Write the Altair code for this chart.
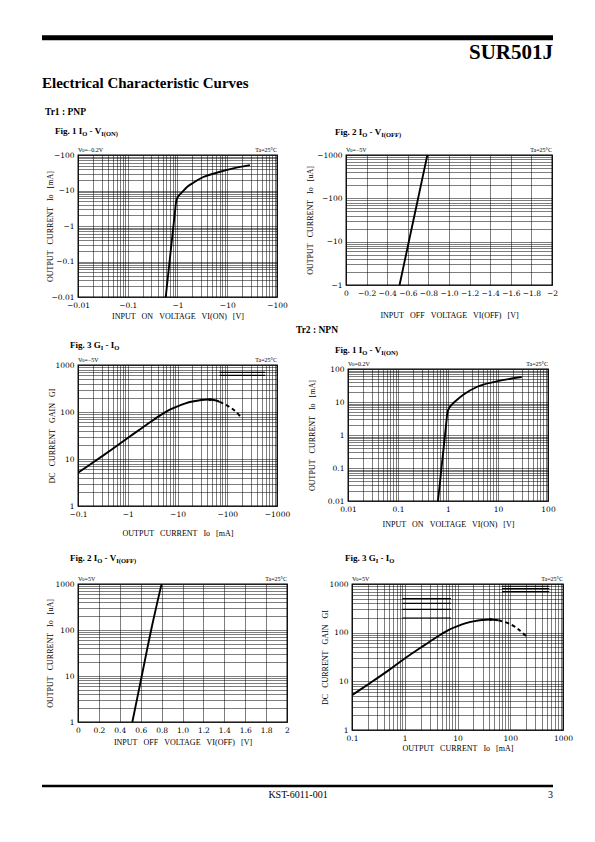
import json
import altair as alt
import pandas as pd

SERIF = "Liberation Serif"
LABEL_FONT = "DejaVu Serif"
NB = "\u00a0"
SP = NB * 3
M = "\u2212"

# ---------------- values ----------------
# Tr1 (PNP) Fig.1  IO - VI(ON)   (magnitudes, axes labelled negative)
TR1_F1_VIN = [0.58, 0.70, 0.80, 0.90, 0.93, 1.00, 1.10, 1.21, 1.50, 2.08, 3.30, 6.10, 13.2, 28.6]
TR1_F1_IO = [0.01, 0.114, 0.64, 2.9, 4.5, 6.3, 7.6, 8.7, 12.0, 16.6, 24.0, 31.6, 42.0, 52.0]

# Tr1 Fig.2  IO - VI(OFF)
TR1_F2_VIN = [0.52, 0.61, 0.70, 0.79]
TR1_F2_IO = [1, 10, 100, 1000]

# Tr1 Fig.3  GI - IO
TR1_F3_IO = [0.1, 0.2, 0.5, 1.0, 2.0, 3.0, 5.0, 7.0, 10, 14, 20, 40, 60, 70]
TR1_F3_GI = [5.1, 8.4, 16.5, 28, 47, 63.5, 91, 112, 132, 151, 167, 184, 176, 165]
TR1_F3_IO_DASH = [70, 100, 140, 180]
TR1_F3_GI_DASH = [165, 137, 108, 82]
TR1_F3_DOT_IO = [45]
TR1_F3_DOT_GI = [183]
TR1_F3_SEG_X1 = [70, 70]
TR1_F3_SEG_X2 = [580, 580]
TR1_F3_SEG_Y = [600, 700]

# Tr2 (NPN) Fig.1  IO - VI(ON)
TR2_F1_VIN = [0.63, 0.75, 0.85, 0.92, 0.97, 1.05, 1.19, 1.50, 2.02, 3.75, 9.4, 29.8]
TR2_F1_IO = [0.01, 0.12, 0.70, 2.2, 4.6, 6.5, 8.3, 11.5, 16.6, 28.5, 42.0, 57.0]

# Tr2 Fig.2  IO - VI(OFF)
TR2_F2_VIN = [0.52, 0.61, 0.70, 0.80]
TR2_F2_IO = [1, 10, 100, 1000]

# Tr2 Fig.3  GI - IO
TR2_F3_IO = [0.1, 0.2, 0.5, 1.0, 2.0, 3.0, 5.0, 7.0, 10, 14, 20, 40, 60]
TR2_F3_GI = [5.2, 8.6, 17, 29.5, 49, 66, 94, 116, 136, 155, 171, 187, 180]
TR2_F3_IO_DASH = [60, 100, 150, 200]
TR2_F3_GI_DASH = [180, 150, 112, 85]
TR2_F3_DOT_IO = [42]
TR2_F3_DOT_GI = [187]
TR2_F3_SEG_X1 = [0.9, 0.9, 0.9, 0.9, 70, 70, 70]
TR2_F3_SEG_X2 = [7.5, 7.5, 7.5, 7.5, 550, 550, 550]
TR2_F3_SEG_Y = [200, 300, 400, 500, 700, 800, 900]

# ---------------- tick values and labels ----------------
TICKS_001_100 = [0.01, 0.1, 1.0, 10.0, 100.0]
LAB_001_100_NEG = [M + "0.01", M + "0.1", M + "1", M + "10", M + "100"]
LAB_001_100 = ["0.01", "0.1", "1", "10", "100"]
TICKS_1_1000 = [1.0, 10.0, 100.0, 1000.0]
LAB_1_1000_NEG = [M + "1", M + "10", M + "100", M + "1000"]
LAB_1_1000 = ["1", "10", "100", "1000"]
TICKS_01_1000 = [0.1, 1.0, 10.0, 100.0, 1000.0]
LAB_01_1000_NEG = [M + "0.1", M + "1", M + "10", M + "100", M + "1000"]
LAB_01_1000 = ["0.1", "1", "10", "100", "1000"]
TICKS_0_2 = [0.0, 0.2, 0.4, 0.6, 0.8, 1.0, 1.2, 1.4, 1.6, 1.8, 2.0]
LAB_0_2_NEG = ["0", M + "0.2", M + "0.4", M + "0.6", M + "0.8", M + "1.0", M + "1.2",
               M + "1.4", M + "1.6", M + "1.8", M + "2"]
LAB_0_2 = ["0", "0.2", "0.4", "0.6", "0.8", "1.0", "1.2", "1.4", "1.6", "1.8", "2"]


def log_grid(lo, hi):
    vals = [float(f"{k}e{e}") for e in range(lo, hi) for k in range(1, 10)]
    return vals + [float(f"1e{hi}")]


def lab_expr(ticks, labels):
    t = json.dumps(ticks)
    lab = json.dumps(labels, ensure_ascii=False)
    return f"indexof({t}, datum.value) >= 0 ? {lab}[indexof({t}, datum.value)] : ''"


def xaxis(vals, ticks, labels, title, w, ty):
    return alt.Axis(values=vals, labelExpr=lab_expr(ticks, labels), title=title,
                    titleX=w / 2, titleY=ty, titleBaseline="middle", titleAlign="center",
                    ticks=False, domain=False, labelFlush=False, labelOverlap=False,
                    labelPadding=4, labelBaseline="top")


def yaxis(vals, ticks, labels, title, h, tx):
    return alt.Axis(values=vals, labelExpr=lab_expr(ticks, labels), title=title,
                    titleX=tx, titleY=h / 2, titleBaseline="middle", titleAlign="center",
                    titleAngle=270, ticks=False, domain=False, labelFlush=False,
                    labelOverlap=False, labelPadding=4, labelBaseline="middle")


def text_layer(s, x, y, size, weight="normal", align="left", font=SERIF):
    return alt.Chart(pd.DataFrame({"t": [s]})).mark_text(
        align=align, baseline="alphabetic", fontSize=size, fontWeight=weight,
        font=font, color="black").encode(x=alt.value(x), y=alt.value(y), text="t:N")


def hrule(x1, x2, y, sw):
    return alt.Chart(pd.DataFrame({"a": [0]})).mark_rule(color="black", strokeWidth=sw).encode(
        x=alt.value(x1), x2=alt.value(x2), y=alt.value(y))


TB = {'F': 611, 'i': 278, 'g': 500, '.': 250, ' ': 250, '1': 500, '2': 500, '3': 500,
      'I': 389, 'O': 778, '-': 333, 'V': 722, '(': 333, ')': 333, 'N': 722, 'G': 778}


def tw(s, size):
    return sum(TB.get(c, 500) for c in s) * size / 1000.0


def fig_title(pieces, x0, y0, big=9.0, small=6.5):
    layers = []
    x = x0
    for txt, is_small in pieces:
        size = small if is_small else big
        core = txt.strip(" ")
        lead = len(txt) - len(txt.lstrip(" "))
        trail = len(txt) - len(txt.rstrip(" "))
        x += tw(" " * lead, size)
        layers.append(text_layer(core, x, y0 + (2 if is_small else 0), size, weight="bold"))
        x += tw(core, size) + tw(" " * trail, size)
    return layers


def line_layer(xv, yv, xs, ys, xax, yax, dash=None, interp="monotone"):
    kw = dict(color="black", strokeWidth=1.9, clip=True, interpolate=interp)
    if dash:
        kw["strokeDash"] = dash
    return alt.Chart(pd.DataFrame({"x": xv, "y": yv})).mark_line(**kw).encode(
        x=alt.X("x:Q", scale=xs, axis=xax), y=alt.Y("y:Q", scale=ys, axis=yax))


def seg_layer(x1, x2, y, xs, ys, xax, yax):
    return alt.Chart(pd.DataFrame({"x": x1, "x2": x2, "y": y})).mark_rule(
        color="black", strokeWidth=1.2).encode(
        x=alt.X("x:Q", scale=xs, axis=xax), x2="x2:Q", y=alt.Y("y:Q", scale=ys, axis=yax))


def dot_layer(xv, yv, xs, ys, xax, yax):
    return alt.Chart(pd.DataFrame({"x": xv, "y": yv})).mark_square(
        size=8, color="black", opacity=1).encode(
        x=alt.X("x:Q", scale=xs, axis=xax), y=alt.Y("y:Q", scale=ys, axis=yax))


def corner_notes(vo, w):
    return [text_layer(vo, 0, -3, 6), text_layer("Ta=25\u00b0C", w, -3, 6, align="right")]


def blank(w, h, layers=None):
    if not layers:
        layers = [text_layer("", 0, 0, 6)]
    return alt.layer(*layers).properties(width=w, height=h,
                                         view=alt.ViewBackground(stroke="transparent", strokeWidth=0))


def log_scale(lo, hi):
    return alt.Scale(type="log", domain=[lo, hi], nice=False)


def lin_scale(lo, hi):
    return alt.Scale(type="linear", domain=[lo, hi], nice=False, zero=False)


T_ON = [("Fig. 1 I", False), ("O", True), (" - V", False), ("I(ON)", True)]
T_OFF = [("Fig. 2 I", False), ("O", True), (" - V", False), ("I(OFF)", True)]
T_GAIN = [("Fig. 3 G", False), ("I", True), (" - I", False), ("O", True)]

Y_IO_MA = f"OUTPUT{SP}CURRENT{SP}Io{SP}[mA]"
Y_IO_UA = f"OUTPUT{SP}CURRENT{SP}Io{SP}[uA]"
Y_GAIN = f"DC{SP}CURRENT{SP}GAIN{SP}GI"
X_ON = f"INPUT{SP}ON{SP}VOLTAGE{SP}VI(ON){SP}[V]"
X_OFF = f"INPUT{SP}OFF{SP}VOLTAGE{SP}VI(OFF){SP}[V]"
X_IO = f"OUTPUT{SP}CURRENT{SP}Io{SP}[mA]"


def von_panel(vin, io, w, h, xlab, ylab, vo, tpos, ty, tx):
    xs, ys = log_scale(0.01, 100), log_scale(0.01, 100)
    g = log_grid(-2, 2)
    main = line_layer(vin, io, xs, ys,
                      xaxis(g, TICKS_001_100, xlab, X_ON, w, ty),
                      yaxis(g, TICKS_001_100, ylab, Y_IO_MA, h, tx))
    return alt.layer(main, *corner_notes(vo, w), *fig_title(T_ON, *tpos)).properties(width=w, height=h)


def voff_panel(vin, io, w, h, xlab, ylab, vo, tpos, ty, tx):
    xs, ys = lin_scale(0, 2), log_scale(1, 1000)
    main = line_layer(vin, io, xs, ys,
                      xaxis(TICKS_0_2, TICKS_0_2, xlab, X_OFF, w, ty),
                      yaxis(log_grid(0, 3), TICKS_1_1000, ylab, Y_IO_UA, h, tx))
    return alt.layer(main, *corner_notes(vo, w), *fig_title(T_OFF, *tpos)).properties(width=w, height=h)


def gain_panel(io, gi, io_d, gi_d, dx, dy, sx1, sx2, sy, w, h, xlab, vo, tpos, ty, tx):
    xs, ys = log_scale(0.1, 1000), log_scale(1, 1000)
    xa = xaxis(log_grid(-1, 3), TICKS_01_1000, xlab, X_IO, w, ty)
    ya = yaxis(log_grid(0, 3), TICKS_1_1000, LAB_1_1000, Y_GAIN, h, tx)
    main = line_layer(io, gi, xs, ys, xa, ya, interp="catmull-rom")
    segs = seg_layer(sx1, sx2, sy, xs, ys, xa, ya)
    dash = line_layer(io_d, gi_d, xs, ys, xa, ya, dash=[4, 3], interp="catmull-rom")
    dot = dot_layer(dx, dy, xs, ys, xa, ya)
    return alt.layer(main, segs, dash, dot, *corner_notes(vo, w),
                     *fig_title(T_GAIN, *tpos)).properties(width=w, height=h)


c1 = von_panel(TR1_F1_VIN, TR1_F1_IO, 199, 142, LAB_001_100_NEG, LAB_001_100_NEG,
               f"Vo={M}0.2V", (-23, -21), 19, -28)
c2 = voff_panel(TR1_F2_VIN, TR1_F2_IO, 206, 130, LAB_0_2_NEG, LAB_1_1000_NEG,
                f"Vo={M}5V", (-11, -20), 30, -36)
c3 = gain_panel(TR1_F3_IO, TR1_F3_GI, TR1_F3_IO_DASH, TR1_F3_GI_DASH, TR1_F3_DOT_IO, TR1_F3_DOT_GI,
                TR1_F3_SEG_X1, TR1_F3_SEG_X2, TR1_F3_SEG_Y, 199, 141, LAB_01_1000_NEG,
                f"Vo={M}5V", (-8, -17), 27, -26)
c4 = von_panel(TR2_F1_VIN, TR2_F1_IO, 200, 132, LAB_001_100, LAB_001_100,
               "Vo=0.2V", (-13, -16), 23, -36)
c5 = voff_panel(TR2_F2_VIN, TR2_F2_IO, 209, 138, LAB_0_2, LAB_1_1000,
                "Vo=5V", (-8, -23), 20, -28)
c6 = gain_panel(TR2_F3_IO, TR2_F3_GI, TR2_F3_IO_DASH, TR2_F3_GI_DASH, TR2_F3_DOT_IO, TR2_F3_DOT_GI,
                TR2_F3_SEG_X1, TR2_F3_SEG_X2, TR2_F3_SEG_Y, 211, 146, LAB_01_1000,
                "Vo=5V", (-7, -23), 18, -27)

# In a flush vconcat a nested row adds no height, so each spacer below a row
# spans that row's plot height plus the gap that follows it.
header = blank(199, 119, [
    hrule(-36, 475, 1.8, 5),
    text_layer("SUR501J", 475, 23, 21, weight="bold", align="right"),
    text_layer("Electrical Characteristic Curves", -36, 52, 15, weight="bold"),
    text_layer("Tr1 : PNP", -33, 79, 9.5, weight="bold"),
])
row1 = alt.hconcat(c1, c2, spacing=69, bounds="flush")
gap1 = blank(199, 142 + 68, [text_layer("Tr2 : NPN", 218, 178, 9.5, weight="bold")])
right2 = alt.vconcat(blank(200, 4), c4, spacing=0, bounds="flush")
row2 = alt.hconcat(c3, right2, spacing=71, bounds="flush")
gap2 = blank(199, 141 + 78)
row3 = alt.hconcat(c5, c6, spacing=65, bounds="flush")
footer = blank(199, 217, [
    hrule(-36, 475, 202, 2.5),
    text_layer("KST-6011-001", 220, 214, 10, align="center"),
    text_layer("3", 475, 214, 10, align="right"),
])

chart = alt.vconcat(header, row1, gap1, row2, gap2, row3, footer, spacing=0, bounds="flush").properties(
    padding={"left": 31, "top": 27, "right": 4, "bottom": 4}
).configure_axis(
    labelFont=LABEL_FONT, labelFontSize=7.5, labelColor="black",
    titleFont=SERIF, titleFontSize=8, titleFontWeight="normal", titleColor="black",
    gridColor="black", gridWidth=0.6, gridOpacity=0.85,
).configure_view(stroke="black", strokeWidth=1.3)

chart.save("out.html", embed_options={"renderer": "svg", "actions": False})
